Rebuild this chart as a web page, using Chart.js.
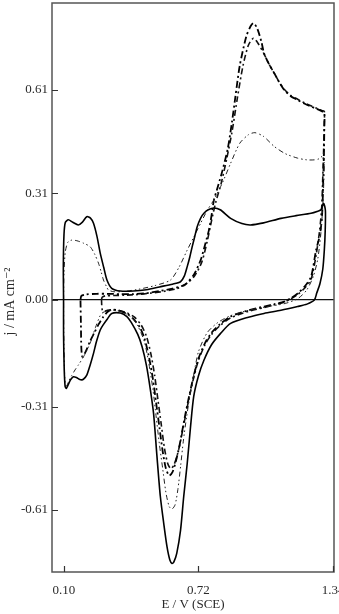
<!DOCTYPE html>
<html>
<head>
<meta charset="utf-8">
<script src="https://cdn.jsdelivr.net/npm/chart.js@4.4.0/dist/chart.umd.min.js"></script>
<style>
  html, body { margin: 0; padding: 0; background: #fff; overflow: hidden; }
  #wrap { position: relative; width: 339px; height: 614px; }
</style>
</head>
<body>
<div id="wrap"><canvas id="cvChart"></canvas></div>
<script>
// tick values
const xTicks = [0.10, 0.72, 1.34];
const yTicks = [-0.61, -0.31, 0.00, 0.31, 0.61];

// solid curve (anodic sweep, then cathodic back)
const solidE = [0.098, 0.097, 0.100, 0.106, 0.120, 0.140, 0.166, 0.185, 0.205, 0.222, 0.236, 0.252, 0.267, 0.283, 0.298, 0.320, 0.36, 0.42, 0.48, 0.54, 0.60, 0.637, 0.655, 0.668, 0.680, 0.691, 0.703, 0.714, 0.730, 0.745, 0.765, 0.791, 0.820, 0.868, 0.920, 0.960, 1.020, 1.100, 1.170, 1.239, 1.270, 1.285, 1.297,
  1.305, 1.304, 1.300, 1.293, 1.280, 1.265, 1.254, 1.220, 1.177, 1.100, 1.022, 0.950, 0.868, 0.822, 0.780, 0.745, 0.720, 0.698, 0.683, 0.668, 0.652, 0.637, 0.620, 0.607, 0.598, 0.588, 0.575, 0.560, 0.544, 0.528, 0.513, 0.498, 0.480, 0.460, 0.440, 0.410, 0.390, 0.360, 0.320, 0.300, 0.283, 0.267, 0.250, 0.236, 0.220, 0.205, 0.190, 0.182, 0.170, 0.157, 0.143, 0.130, 0.118, 0.110, 0.105, 0.101, 0.098, 0.098];
const solidJ = [0.000, 0.100, 0.190, 0.225, 0.233, 0.226, 0.218, 0.226, 0.242, 0.238, 0.223, 0.185, 0.136, 0.095, 0.058, 0.034, 0.026, 0.026, 0.030, 0.038, 0.046, 0.053, 0.070, 0.097, 0.125, 0.155, 0.185, 0.213, 0.238, 0.252, 0.262, 0.267, 0.262, 0.237, 0.222, 0.218, 0.224, 0.237, 0.245, 0.252, 0.258, 0.262, 0.281,
  0.260, 0.200, 0.145, 0.090, 0.048, 0.020, 0.000, -0.012, -0.019, -0.030, -0.039, -0.050, -0.068, -0.097, -0.130, -0.175, -0.220, -0.280, -0.370, -0.475, -0.570, -0.670, -0.735, -0.760, -0.765, -0.755, -0.717, -0.650, -0.570, -0.450, -0.330, -0.260, -0.190, -0.136, -0.100, -0.065, -0.048, -0.038, -0.039, -0.055, -0.070, -0.087, -0.120, -0.155, -0.190, -0.218, -0.230, -0.232, -0.230, -0.225, -0.223, -0.232, -0.248, -0.257, -0.250, -0.200, -0.100, 0.000];

// thin dash-dot-dot curve
const dotE = [0.098, 0.100, 0.106, 0.118, 0.136, 0.160, 0.190, 0.220, 0.240, 0.259, 0.272, 0.282, 0.295, 0.305, 0.330, 0.380, 0.450, 0.520, 0.591, 0.630, 0.668, 0.700, 0.730, 0.760, 0.790, 0.830, 0.868, 0.910, 0.950, 0.980, 1.020, 1.069, 1.120, 1.177, 1.220, 1.254, 1.275, 1.293, 1.300,
  1.300, 1.295, 1.285, 1.270, 1.250, 1.220, 1.180, 1.120, 1.030, 0.950, 0.870, 0.810, 0.760, 0.720, 0.700, 0.680, 0.665, 0.650, 0.638, 0.625, 0.612, 0.598, 0.585, 0.570, 0.555, 0.540, 0.525, 0.510, 0.490, 0.470, 0.440, 0.410, 0.370, 0.330, 0.300, 0.280, 0.267, 0.245, 0.220, 0.190, 0.165, 0.151, 0.135, 0.120, 0.112, 0.106, 0.102, 0.099, 0.098];
const dotJ = [0.000, 0.080, 0.140, 0.168, 0.174, 0.172, 0.165, 0.155, 0.135, 0.107, 0.080, 0.058, 0.040, 0.029, 0.024, 0.025, 0.032, 0.042, 0.058, 0.095, 0.145, 0.185, 0.223, 0.260, 0.290, 0.340, 0.397, 0.455, 0.480, 0.486, 0.475, 0.446, 0.425, 0.412, 0.407, 0.407, 0.410, 0.420, 0.430,
  0.400, 0.300, 0.200, 0.120, 0.070, 0.030, 0.005, -0.010, -0.020, -0.030, -0.045, -0.065, -0.095, -0.150, -0.210, -0.280, -0.340, -0.410, -0.480, -0.550, -0.595, -0.607, -0.600, -0.560, -0.490, -0.420, -0.340, -0.260, -0.180, -0.120, -0.075, -0.050, -0.035, -0.030, -0.032, -0.036, -0.045, -0.080, -0.126, -0.165, -0.190, -0.203, -0.220, -0.238, -0.250, -0.245, -0.200, -0.100, 0.000];

// heavy dash-dot curve, highest oxidation peak
const dashAE = [0.176, 0.180, 0.200, 0.250, 0.300, 0.360, 0.420, 0.480, 0.540, 0.600, 0.640, 0.668, 0.700, 0.730, 0.750, 0.768, 0.780, 0.791, 0.805, 0.830, 0.855, 0.875, 0.890, 0.910, 0.940, 0.960, 0.973, 0.990, 1.010, 1.022, 1.045, 1.069, 1.090, 1.115, 1.145, 1.177, 1.210, 1.238, 1.265, 1.290, 1.300,
  1.300, 1.298, 1.295, 1.290, 1.280, 1.262, 1.239, 1.210, 1.177, 1.145, 1.115, 1.070, 1.022, 0.950, 0.868, 0.820, 0.780, 0.750, 0.720, 0.700, 0.680, 0.660, 0.645, 0.630, 0.615, 0.600, 0.585, 0.570, 0.555, 0.540, 0.525, 0.510, 0.490, 0.470, 0.450, 0.420, 0.390, 0.350, 0.320, 0.300, 0.280, 0.260, 0.240, 0.220, 0.200, 0.185, 0.180, 0.178, 0.176];
const dashAJ = [0.000, 0.012, 0.016, 0.018, 0.018, 0.017, 0.017, 0.020, 0.026, 0.033, 0.040, 0.050, 0.075, 0.116, 0.160, 0.203, 0.245, 0.290, 0.320, 0.375, 0.440, 0.520, 0.590, 0.680, 0.765, 0.795, 0.804, 0.790, 0.750, 0.717, 0.685, 0.659, 0.635, 0.610, 0.592, 0.581, 0.570, 0.562, 0.555, 0.548, 0.545,
  0.500, 0.420, 0.350, 0.250, 0.190, 0.145, 0.068, 0.040, 0.019, 0.005, -0.005, -0.012, -0.019, -0.030, -0.048, -0.070, -0.095, -0.125, -0.170, -0.215, -0.270, -0.330, -0.380, -0.430, -0.470, -0.500, -0.510, -0.490, -0.440, -0.370, -0.300, -0.230, -0.160, -0.110, -0.080, -0.055, -0.040, -0.030, -0.028, -0.035, -0.050, -0.070, -0.095, -0.120, -0.150, -0.165, -0.140, -0.070, 0.000];

// second dash-dot curve
const dashBE = [0.273, 0.276, 0.290, 0.330, 0.380, 0.440, 0.500, 0.560, 0.620, 0.660, 0.700, 0.735, 0.760, 0.780, 0.800, 0.825, 0.850, 0.875, 0.900, 0.925, 0.950, 0.973, 0.995, 1.022, 1.045, 1.069, 1.090, 1.115, 1.145, 1.177, 1.210, 1.238, 1.265, 1.290, 1.300,
  1.300, 1.297, 1.293, 1.288, 1.278, 1.262, 1.239, 1.210, 1.177, 1.145, 1.115, 1.070, 1.022, 0.950, 0.868, 0.820, 0.780, 0.750, 0.720, 0.700, 0.680, 0.662, 0.648, 0.634, 0.620, 0.606, 0.592, 0.578, 0.563, 0.548, 0.533, 0.518, 0.500, 0.480, 0.455, 0.425, 0.390, 0.350, 0.320, 0.300, 0.285, 0.277, 0.274, 0.273];
const dashBJ = [0.000, 0.008, 0.012, 0.013, 0.014, 0.016, 0.020, 0.025, 0.033, 0.045, 0.068, 0.110, 0.170, 0.230, 0.285, 0.340, 0.410, 0.490, 0.590, 0.680, 0.740, 0.760, 0.745, 0.715, 0.685, 0.659, 0.635, 0.612, 0.594, 0.583, 0.572, 0.564, 0.557, 0.550, 0.548,
  0.520, 0.440, 0.360, 0.270, 0.200, 0.130, 0.060, 0.035, 0.016, 0.003, -0.006, -0.014, -0.022, -0.033, -0.052, -0.074, -0.100, -0.130, -0.175, -0.220, -0.275, -0.330, -0.375, -0.420, -0.455, -0.480, -0.490, -0.475, -0.430, -0.360, -0.290, -0.220, -0.155, -0.105, -0.072, -0.050, -0.037, -0.030, -0.028, -0.030, -0.033, -0.030, -0.015, 0.000];

const pts = (xs, ys) => xs.map((x, i) => ({ x: x, y: ys[i] }));

// box frame + inward tick marks
const frameTicks = {
  id: 'frameTicks',
  afterDraw(chart) {
    const { ctx, chartArea: a, scales } = chart;
    ctx.save();
    ctx.strokeStyle = '#555';
    ctx.lineWidth = 1.5;
    ctx.strokeRect(a.left, a.top, a.right - a.left, a.bottom - a.top);
    ctx.strokeStyle = '#333';
    ctx.lineWidth = 1.2;
    ctx.beginPath();
    scales.x.ticks.forEach(t => {
      const px = Math.round(scales.x.getPixelForValue(t.value)) + 0.5;
      ctx.moveTo(px, a.bottom);
      ctx.lineTo(px, a.bottom - 6);
    });
    scales.y.ticks.forEach(t => {
      const py = Math.round(scales.y.getPixelForValue(t.value)) + 0.5;
      ctx.moveTo(a.left, py);
      ctx.lineTo(a.left + 6, py);
    });
    ctx.stroke();
    ctx.restore();
  }
};

const serif = { family: "'Liberation Serif', 'DejaVu Serif', serif", size: 13 };

const ctx = document.getElementById('cvChart').getContext('2d');
new Chart(ctx, {
  type: 'scatter',
  data: {
    datasets: [
      { label: 'solid', data: pts(solidE, solidJ), borderColor: '#000', borderWidth: 1.6 },
      { label: 'dash-dot-dot', data: pts(dotE, dotJ), borderColor: '#222', borderWidth: 1, borderDash: [5, 3, 1.5, 2.5, 1.5, 3] },
      { label: 'dash-dot A', data: pts(dashAE, dashAJ), borderColor: '#000', borderWidth: 1.8, borderDash: [7, 3, 2, 3] },
      { label: 'dash-dot B', data: pts(dashBE, dashBJ), borderColor: '#111', borderWidth: 1.6, borderDash: [6, 3, 2, 3] }
    ].map(d => Object.assign({ showLine: true, pointRadius: 0, tension: 0.25, fill: false }, d))
  },
  options: {
    responsive: true,
    maintainAspectRatio: false,
    animation: false,
    layout: { padding: { top: 3, right: 5, left: 0, bottom: 0 } },
    plugins: { legend: { display: false }, tooltip: { enabled: false } },
    scales: {
      x: {
        type: 'linear',
        min: 0.0447,
        max: 1.3446,
        afterBuildTicks: s => { s.ticks = xTicks.map(v => ({ value: v })); },
        afterFit: s => { s.height = 42; s.paddingLeft = 0; s.paddingRight = 0; },
        ticks: { callback: v => v.toFixed(2), font: serif, color: '#2a2a2a', padding: 3, maxRotation: 0, autoSkip: false },
        grid: { display: false },
        border: { display: false },
        title: { display: true, text: 'E / V (SCE)', font: serif, color: '#2a2a2a', padding: { top: 0, bottom: 2 } }
      },
      y: {
        type: 'linear',
        min: -0.790,
        max: 0.8626,
        afterBuildTicks: s => { s.ticks = yTicks.map(v => ({ value: v })); },
        afterFit: s => { s.width = 52; s.paddingTop = 0; s.paddingBottom = 0; },
        ticks: { callback: v => v.toFixed(2), font: serif, color: '#2a2a2a', padding: 4, autoSkip: false },
        grid: {
          drawTicks: false,
          color: c => (c.tick && c.tick.value === 0 ? '#111' : 'rgba(0,0,0,0)'),
          lineWidth: 1.2
        },
        border: { display: false },
        // trailing spaces nudge the rotated title a bit lower, like the original
        title: { display: true, text: 'j / mA cm⁻²' + '\u00A0'.repeat(8), font: { family: serif.family, size: 14 }, color: '#2a2a2a', padding: { top: 2, bottom: 0 } }
      }
    }
  },
  plugins: [frameTicks]
});
</script>
</body>
</html>
